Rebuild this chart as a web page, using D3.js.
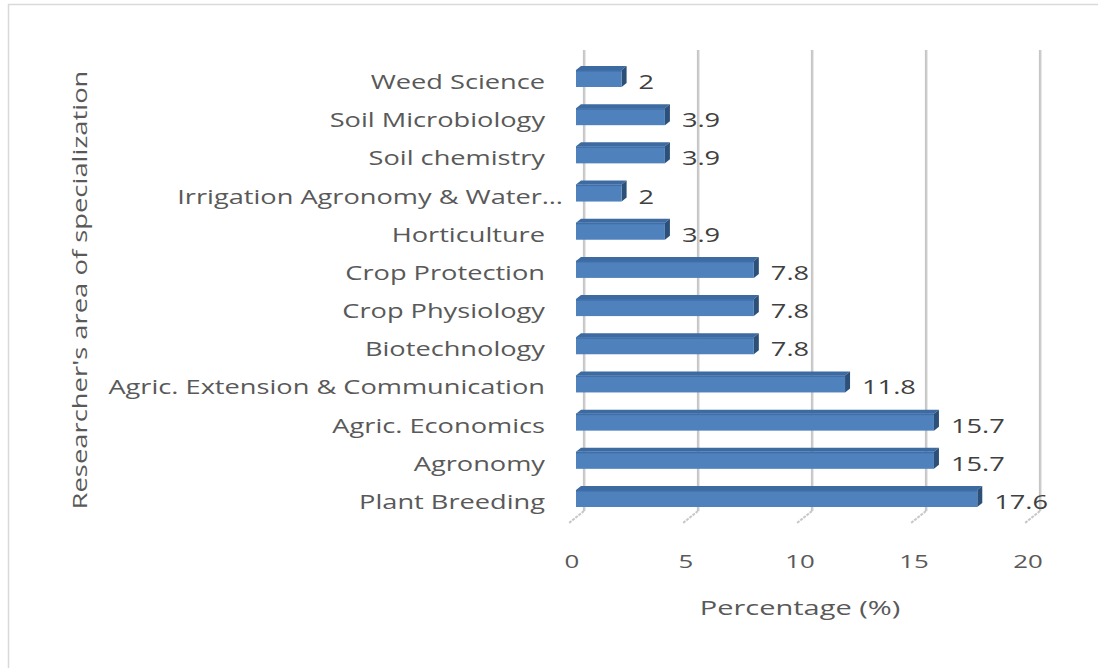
<!DOCTYPE html>
<html><head><meta charset="utf-8">
<script src="https://cdn.jsdelivr.net/npm/d3@7/dist/d3.min.js"></script>
<style>body{margin:0;background:#fff}svg{display:block}text{font-family:"Open Sans",sans-serif}</style>
</head><body><svg id="c" width="1098" height="668"></svg>
<script>
const categories = ["Weed Science","Soil Microbiology","Soil chemistry","Irrigation Agronomy & Water…","Horticulture","Crop Protection","Crop Physiology","Biotechnology","Agric. Extension & Communication","Agric. Economics","Agronomy","Plant Breeding"];
const values = [2,3.9,3.9,2,3.9,7.8,7.8,7.8,11.8,15.7,15.7,17.6];
const ticks = [0,5,10,15,20];
const xTitle = "Percentage (%)";
const yTitle = "Researcher's area of specialization";

const SX = 1.36;
const svg = d3.select("#c");
svg.append("rect").attr("x",8.5).attr("y",4.5).attr("width",1200).attr("height",800)
  .attr("fill","none").attr("stroke","#d9d9d9").attr("stroke-width",1.5);

const x = d3.scaleLinear().domain([0,20]).range([576,1032]);
const y = d3.scalePoint().domain(categories).range([82,502]);
const bdx = 8;
const gTop = 50, gBot = 511;

function label(px, py, txt, anchor, size, fill, sx){
  svg.append("text").attr("transform",`translate(${px},${py}) scale(${sx||SX},1)`)
    .attr("dy","0.35em").attr("text-anchor",anchor).attr("font-size",size).attr("fill",fill).text(txt);
}

const grid = svg.append("g");
ticks.forEach(t=>{
  const xb = x(t)+bdx;
  grid.append("line").attr("x1",xb).attr("x2",xb).attr("y1",gTop).attr("y2",gBot)
    .attr("stroke","#c6c6c6").attr("stroke-width",2.2);
  grid.append("line").attr("x1",xb+1.3).attr("x2",xb+1.3).attr("y1",gTop).attr("y2",gBot)
    .attr("stroke","#e4e4e4").attr("stroke-width",1);
  grid.append("line").attr("x1",xb).attr("y1",gBot).attr("x2",xb-15).attr("y2",gBot+12)
    .attr("stroke","#c8c8c8").attr("stroke-width",2).attr("stroke-dasharray","3,1");
});

const h = 17, dx = 5, dy = 4;
const bars = svg.append("g");
categories.forEach((c,i)=>{
  const x0 = x(0), x1 = x(values[i]);
  const yt = y(c) - 12;
  bars.append("path").attr("d",`M${x0},${yt} L${x0+dx},${yt-dy} L${x1+dx},${yt-dy} L${x1},${yt} Z`)
    .attr("fill","#3c6aa1");
  bars.append("path").attr("d",`M${x1},${yt} L${x1+dx},${yt-dy} L${x1+dx},${yt+h-dy} L${x1},${yt+h} Z`)
    .attr("fill","#2d5079");
  bars.append("rect").attr("x",x0).attr("y",yt).attr("width",x1-x0).attr("height",h)
    .attr("fill","#4f81bd");
  bars.append("rect").attr("x",x0).attr("y",yt).attr("width",x1-x0).attr("height",1.5)
    .attr("fill","#3f6fa8");
  label(x1+17, y(c), values[i], "start", 20, "#404040");
});

categories.forEach((c,i)=>{
  label(i===3 ? 563 : 545, y(c), c, "end", 20, "#595959");
});

ticks.forEach(t=>{
  label(x(t)-4, 561, t, "middle", 19, "#595959");
});

label(800, 608, xTitle, "middle", 20, "#595959", 1.45);
svg.append("text").attr("transform",`translate(80,290) rotate(-90) scale(1.37,1)`).attr("dy","0.35em")
  .attr("text-anchor","middle").attr("font-size",20).attr("fill","#595959").text(yTitle);
</script></body></html>
